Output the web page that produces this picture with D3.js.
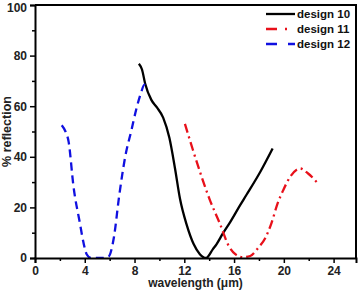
<!DOCTYPE html>
<html><head><meta charset="utf-8">
<script src="https://cdn.jsdelivr.net/npm/d3@7"></script>
<style>
html,body{margin:0;padding:0;background:#fff;}
svg{display:block;font-family:"Liberation Sans",Arial,sans-serif;font-weight:bold;}
</style></head>
<body><svg id="c" width="361" height="290"></svg>
<script>
const seriesNames = ["design 10", "design 11", "design 12"];
const seriesColors = ["#000000", "#e8101a", "#1010e0"];
const design10 = [[8.35,76.8],[8.6,74.5],[8.85,69],[9.35,62.5],[9.8,59.5],[10.3,55.5],[10.8,47.5],[11.25,35.5],[11.65,23.5],[12.2,13],[12.75,5.5],[13.25,1.5],[13.75,0],[14.3,3.5],[14.6,5.5],[15.1,9.7],[15.7,14.3],[16.5,21],[17.0,25],[18.1,34],[19.1,43.3]];
const design11 = [[12.05,53],[12.7,42.6],[13.4,32],[14.05,23],[14.85,13.7],[15.6,4.5],[16.1,1.5],[16.7,0.3],[17.3,0.8],[17.9,3.8],[18.5,7.8],[19.0,13.7],[19.5,21.6],[19.95,26.8],[20.5,32],[21.3,35.4],[21.95,33.4],[22.7,29.7]];
const design12 = [[2.15,52.5],[2.45,50],[2.7,46],[3.1,28],[3.6,14],[3.9,6],[4.15,1.5],[4.5,0],[5.3,0],[5.9,0.5],[6.35,8.4],[6.75,24],[7.25,40],[7.75,50.5],[8.15,59],[8.5,65],[8.8,68.5],[9.0,67.5]];
const xTicks = [0,4,8,12,16,20,24];
const xMinor = [2,6,10,14,18,22];
const yTicks = [0,20,40,60,80,100];
const yMinor = [10,30,50,70,90];

const svg = d3.select("#c");
const L = 35, R = 356, T = 5, B = 258;
const x = d3.scaleLinear().domain([0,25.8]).range([L,R]);
const y = d3.scaleLinear().domain([0,100]).range([B,T]);

svg.append("clipPath").attr("id","clip").append("rect")
  .attr("x",L).attr("y",T).attr("width",R-L).attr("height",B-T);

const line = d3.line().x(d=>x(d[0])).y(d=>y(d[1])).curve(d3.curveMonotoneX);
const dashes = [null, "9,4,2,4", "8,5"];
const data = [design10, design11, design12];
const g = svg.append("g").attr("clip-path","url(#clip)");
data.forEach((s,i)=>{
  g.append("path").datum(s).attr("d",line).attr("fill","none")
   .attr("stroke",seriesColors[i]).attr("stroke-width",2.3)
   .attr("stroke-dasharray",dashes[i]);
});

// frame
svg.append("path").attr("d",`M${L},${T}H${R}V${B}`).attr("fill","none").attr("stroke","#000").attr("stroke-width",2);

// axes
svg.append("g").attr("transform",`translate(0,${B})`)
  .call(d3.axisBottom(x).tickValues(xTicks).tickSize(5).tickPadding(3).tickFormat(d3.format("d")));
svg.append("g").attr("transform",`translate(0,${B})`)
  .call(d3.axisBottom(x).tickValues(xMinor).tickSize(3).tickFormat(""))
  .call(g=>g.select(".domain").remove());
const ya = svg.append("g").attr("transform",`translate(${L},0)`)
  .call(d3.axisLeft(y).tickValues(yTicks).tickSize(5).tickPadding(3).tickFormat(d3.format("d")));
svg.append("g").attr("transform",`translate(${L},0)`)
  .call(d3.axisLeft(y).tickValues(yMinor).tickSize(3).tickFormat(""))
  .call(g=>g.select(".domain").remove());
svg.selectAll(".domain").attr("stroke-width",2).attr("stroke","#000");
svg.selectAll(".tick line").attr("stroke-width",1.5).attr("stroke","#000");
svg.selectAll(".tick text").attr("font-size",12).attr("font-weight","bold")
  .attr("font-family","Liberation Sans, Arial, sans-serif").attr("fill","#222");
ya.selectAll(".tick text").filter(d=>d===100).attr("dy","0.5em");

// axis titles
svg.append("text").attr("x",(L+R)/2).attr("y",287).attr("text-anchor","middle")
  .attr("font-size",12).attr("fill","#222").text("wavelength (μm)");
svg.append("text").attr("transform",`translate(11,${(T+B)/2}) rotate(-90)`)
  .attr("text-anchor","middle").attr("font-size",12.5).attr("fill","#222").text("% reflection");

// legend
const lg = svg.append("g");
seriesNames.forEach((n,i)=>{
  const yy = 14 + i*15;
  lg.append("line").attr("x1",266).attr("x2",295).attr("y1",yy).attr("y2",yy)
    .attr("stroke",seriesColors[i]).attr("stroke-width",2.3)
    .attr("stroke-dasharray", i===0?null:(i===1?"11,8,2,8":"11,11"));
  lg.append("text").attr("x",297).attr("y",yy+4).attr("font-size",11.5).attr("fill","#111").text(n);
});
</script></body></html>
